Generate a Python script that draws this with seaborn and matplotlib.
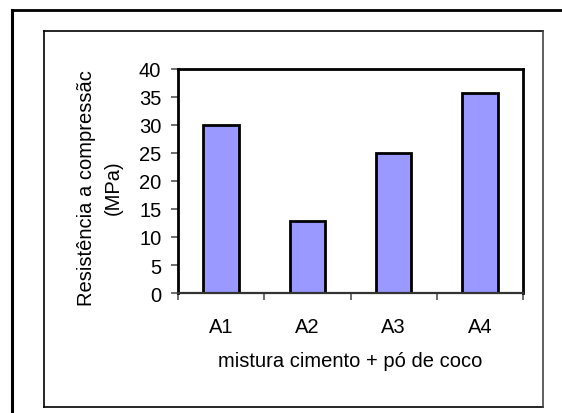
import matplotlib
matplotlib.use("Agg")
import matplotlib.pyplot as plt
from matplotlib.lines import Line2D
from matplotlib.ticker import FixedLocator
import seaborn as sns
import pandas as pd

categories = ["A1", "A2", "A3", "A4"]
resistencia = [30.0, 12.8, 25.0, 35.7]
y_ticks = [0, 5, 10, 15, 20, 25, 30, 35, 40]

x_label = "mistura cimento + pó de coco"
y_label = "Resistência a compressãc\n(MPa)"

sns.set_theme(style="white")
plt.rcParams["font.family"] = ["Liberation Sans", "DejaVu Sans"]

W, H = 562, 414
fig = plt.figure(figsize=(W / 100, H / 100), dpi=100)
fig.patch.set_facecolor("white")

# axes box in pixel coordinates
ax_l, ax_r, ax_t, ax_b = 178, 523, 70, 294
ax = fig.add_axes([ax_l / W, 1 - ax_b / H, (ax_r - ax_l) / W, (ax_b - ax_t) / H])

df = pd.DataFrame({"mistura": categories, "resistencia": resistencia})
sns.barplot(data=df, x="mistura", y="resistencia", color="#9999FF",
            saturation=1, width=0.41, edgecolor="black", linewidth=2.0, ax=ax)

ax.set_xlim(-0.5, len(categories) - 0.5)
ax.set_ylim(0, 40)
ax.set_yticks(y_ticks)
ax.set_yticklabels([str(t) for t in y_ticks])

# category boundary ticks on x axis
ax.xaxis.set_minor_locator(FixedLocator([i - 0.5 for i in range(len(categories) + 1)]))
ax.tick_params(axis="x", which="major", length=0, pad=17, labelsize=14.5, colors="black")
ax.tick_params(axis="x", which="minor", bottom=True, length=5, width=1.2, color="#555555")
ax.tick_params(axis="y", which="major", left=True, length=5, width=1.2, color="#555555",
               pad=7, labelsize=14.5, labelcolor="black")

for side in ["left", "top", "right"]:
    ax.spines[side].set_color("black")
    ax.spines[side].set_linewidth(2.0)
ax.spines["bottom"].set_color("#333333")
ax.spines["bottom"].set_linewidth(1.6)
ax.set_facecolor("white")

ax.set_xlabel(x_label, fontsize=14.5, color="black")
ax.xaxis.set_label_coords(0.5, (ax_b - 362) / (ax_b - ax_t))
ax.xaxis.label.set_va("center")

ax.set_ylabel(y_label, fontsize=14.5, color="black", linespacing=1.55,
              multialignment="center")
ax.yaxis.set_label_coords((100 - ax_l) / (ax_r - ax_l), (ax_b - 188) / (ax_b - ax_t))
ax.yaxis.label.set_va("center")


def px_line(x0, y0, x1, y1, color, lw):
    fig.add_artist(Line2D([x0 / W, x1 / W], [1 - y0 / H, 1 - y1 / H],
                          transform=fig.transFigure, color=color, linewidth=lw,
                          solid_capstyle="projecting"))


# chart area frame
px_line(44, 32, 543, 32, "black", 1.2)
px_line(44, 32, 44, 408, "black", 1.2)
px_line(44, 408, 543, 408, "black", 1.2)
px_line(543, 32, 543, 408, "#444444", 1.2)

# outer page frame
px_line(12, 11, W + 2, 11, "black", 2.0)
px_line(12, 11, 12, H + 2, "black", 2.2)

fig.savefig("out.png", dpi=100, facecolor="white")
